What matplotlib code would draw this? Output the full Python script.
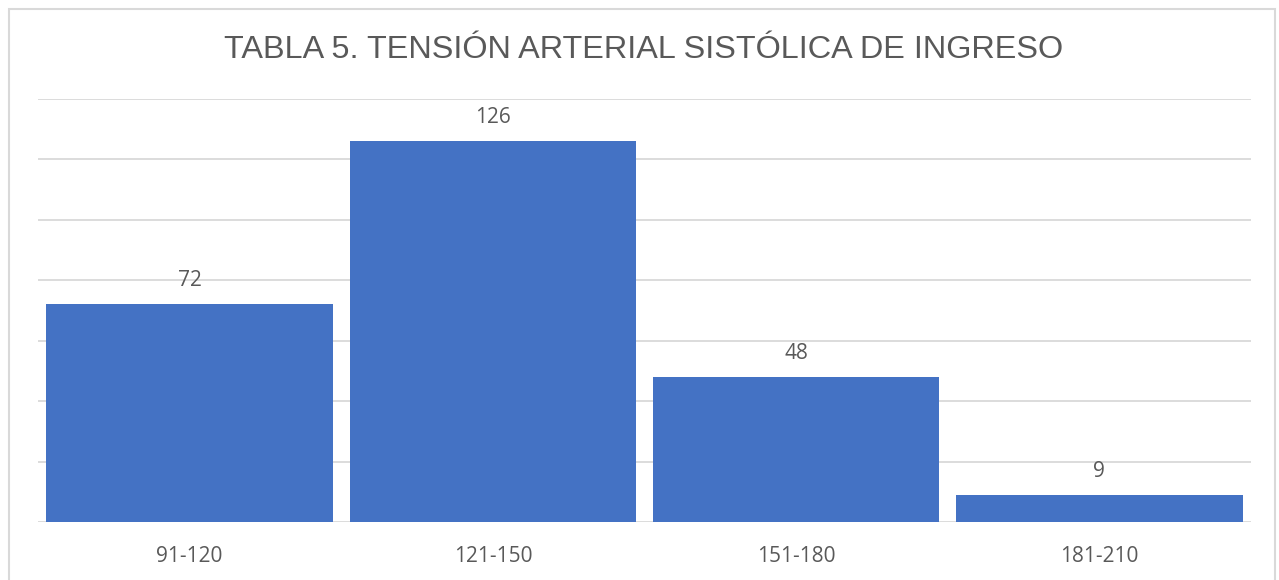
import matplotlib.pyplot as plt
from matplotlib.patches import Rectangle

# data
categories = ["91-120", "121-150", "151-180", "181-210"]
values = [72, 126, 48, 9]

fig = plt.figure(figsize=(12.79, 5.8), dpi=100)

# light outer frame of the chart
fig.patches.append(Rectangle((9 / 1279, -0.05), 1266 / 1279, 1.05 - 9 / 580,
                             transform=fig.transFigure, fill=False,
                             edgecolor="#d9d9d9", linewidth=1.5))

ax = fig.add_axes([38 / 1279, 1 - 522 / 580, (1251 - 38) / 1279, (522 - 99) / 580])

x = range(len(categories))
bars = ax.bar(x, values, width=0.944, color="#4472c4", zorder=3)

for b, v in zip(bars, values):
    ax.annotate(str(v), (b.get_x() + b.get_width() / 2, v), xytext=(0, 9.5),
                textcoords="offset points", ha="center", va="bottom",
                fontsize=15, color="#595959", family="Open Sans")

ax.set_xlim(-0.5, len(categories) - 0.5)
ax.set_ylim(0, 140)
ax.set_yticks(range(0, 141, 20))
ax.set_yticklabels([])
ax.tick_params(axis="y", length=0)
ax.tick_params(axis="x", length=0, pad=17)
ax.set_xticks(list(x))
ax.set_xticklabels(categories, fontsize=15, color="#595959", family="Open Sans")
ax.grid(axis="y", color="#d9d9d9", linewidth=1.3, zorder=0)
for s in ax.spines.values():
    s.set_visible(False)

fig.text(0.503, 1 - 50 / 580, "TABLA 5. TENSIÓN ARTERIAL SISTÓLICA DE INGRESO",
         ha="center", va="center", fontsize=23.3, color="#595959",
         family="Liberation Sans")

plt.savefig("out.png", dpi=100)
